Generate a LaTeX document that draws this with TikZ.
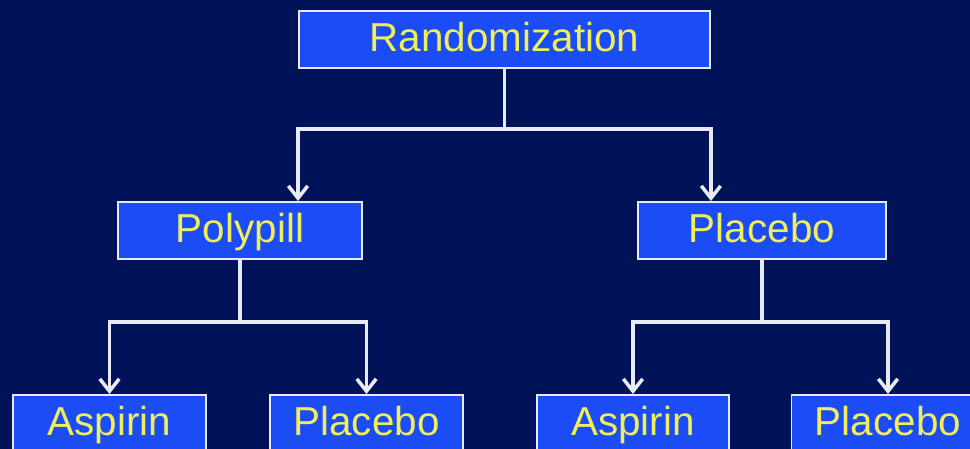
\documentclass[tikz,border=0pt]{standalone}
\usepackage{fontspec}
\setmainfont{Liberation Sans}
\usetikzlibrary{arrows.meta,calc}

\definecolor{bgnavy}{RGB}{1,19,88}
\definecolor{boxblue}{RGB}{27,76,246}
\definecolor{txtyellow}{RGB}{240,238,90}
\definecolor{rimwhite}{RGB}{232,235,245}

\begin{document}
\begin{tikzpicture}[
    armbox/.style={
        rectangle,
        draw=rimwhite,
        line width=1.1pt,
        fill=boxblue,
        text=txtyellow,
        font=\fontsize{23}{27}\selectfont,
        minimum height=1.14cm,
        text height=0.58cm,
        text depth=0.1cm,
        inner sep=0pt,
        align=center
    },
    line/.style={draw=rimwhite, line width=2pt, -{Straight Barb[length=7pt,width=11pt]}}
]

% Background
\fill[bgnavy] (0,0) rectangle (19.4,8.98);
\useasboundingbox (0,0) rectangle (19.4,8.98);

% Randomization
\node [armbox, minimum width=8.22cm] (rand) at (10.09,8.19) {Randomization};

% First arms
\node [armbox, minimum width=4.88cm] (poly) at (4.8,4.37) {Polypill};
\node [armbox, minimum width=4.96cm] (plac) at (15.24,4.37) {Placebo};

% Second arms
\node [armbox, minimum width=3.86cm] (polyasp) at (2.19,0.51) {Aspirin};
\node [armbox, minimum width=3.86cm] (polyplac) at (7.33,0.51) {Placebo};
\node [armbox, minimum width=3.84cm] (placasp) at (12.66,0.51) {Aspirin};
\node [armbox, minimum width=3.86cm] (placplac) at (17.76,0.51) {Placebo};

% Connections
\draw [line] (rand.south) -- ++(0,-1.2) -| (poly.north -| rand.west);
\draw [line] (rand.south) -- ++(0,-1.2) -| (plac.north -| rand.east);
\draw [line] (poly.south) -- ++(0,-1.24) -| (polyasp.north);
\draw [line] (poly.south) -- ++(0,-1.24) -| (polyplac.north);
\draw [line] (plac.south) -- ++(0,-1.24) -| (placasp.north);
\draw [line] (plac.south) -- ++(0,-1.24) -| (placplac.north);

\end{tikzpicture}
\end{document}
